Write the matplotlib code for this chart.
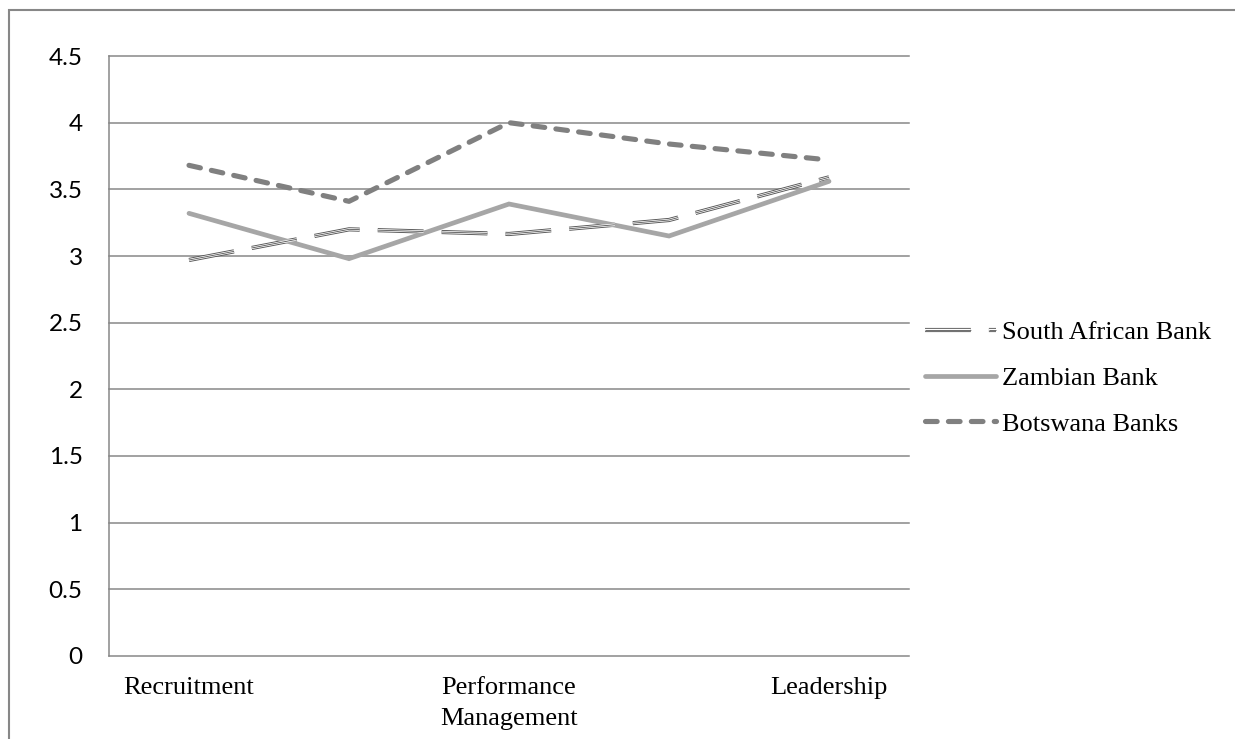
import matplotlib.pyplot as plt
from matplotlib.patches import Rectangle
from matplotlib.legend_handler import HandlerTuple

plt.rcParams['lines.scale_dashes'] = False

categories = ["Recruitment", "", "Performance\nManagement", "", "Leadership"]
south_african = [2.97, 3.20, 3.165, 3.27, 3.59]
zambian = [3.32, 2.98, 3.39, 3.15, 3.56]
botswana = [3.68, 3.41, 4.00, 3.84, 3.72]
yticks = [0, 0.5, 1, 1.5, 2, 2.5, 3, 3.5, 4, 4.5]
ytick_labels = ["0", "0.5", "1", "1.5", "2", "2.5", "3", "3.5", "4", "4.5"]

grid_col = "#878787"

fig = plt.figure(figsize=(12.35, 7.39), dpi=100)
ax = fig.add_axes([109 / 1235, 83 / 739, 800 / 1235, 600 / 739])

# outer chart border (right/bottom fall outside the picture)
fig.patches.append(Rectangle((9 / 1235, -0.1), 1.2, (739 - 10) / 739 + 0.1,
                             transform=fig.transFigure, fill=False,
                             edgecolor=grid_col, linewidth=1.5))

x = list(range(len(categories)))

# South African Bank: compound dashed line
sa_dash = (0, (33, 13))
l1, = ax.plot(x, south_african, color="#555555", lw=3.0, linestyle=sa_dash,
              dash_capstyle='butt', zorder=3)
l2, = ax.plot(x, south_african, color="white", lw=1.7, linestyle=sa_dash,
              dash_capstyle='butt', zorder=3.1)
l3, = ax.plot(x, south_african, color="#555555", lw=0.6, linestyle=sa_dash,
              dash_capstyle='butt', zorder=3.2)

zam, = ax.plot(x, zambian, color="#a6a6a6", lw=3.4, solid_capstyle='round',
               solid_joinstyle='miter', zorder=3)
bots, = ax.plot(x, botswana, color="#808080", lw=3.7, linestyle=(0, (8.4, 8.1)),
                dash_capstyle='round', zorder=3)

ax.set_xlim(-0.5, 4.5)
ax.set_ylim(0, 4.5)
ax.set_yticks(yticks)
ax.set_yticklabels(ytick_labels, fontfamily="Lato", fontsize=17.5)
ax.set_xticks(x)
ax.set_xticklabels(categories, fontfamily="Liberation Serif", fontsize=19,
                   linespacing=1.55)
ax.tick_params(axis='y', length=0, pad=19)
ax.tick_params(axis='x', length=0, pad=15)

for v in yticks[1:]:
    ax.axhline(v, color=grid_col, lw=1.1, zorder=1, clip_on=False)
for s in ["top", "right"]:
    ax.spines[s].set_visible(False)
for s in ["left", "bottom"]:
    ax.spines[s].set_color(grid_col)
    ax.spines[s].set_linewidth(1.1)

ax.legend([(l1, l2, l3), zam, bots],
          ["South African Bank", "Zambian Bank", "Botswana Banks"],
          handler_map={tuple: HandlerTuple(ndivide=1, pad=0)},
          loc="center left", bbox_to_anchor=(925 / 1235, (739 - 378) / 739),
          bbox_transform=fig.transFigure, frameon=False, borderpad=0,
          borderaxespad=0, handlelength=2.7, handletextpad=0.22,
          labelspacing=0.85, prop={"family": "Liberation Serif", "size": 19})

fig.savefig("out.png", dpi=100)
